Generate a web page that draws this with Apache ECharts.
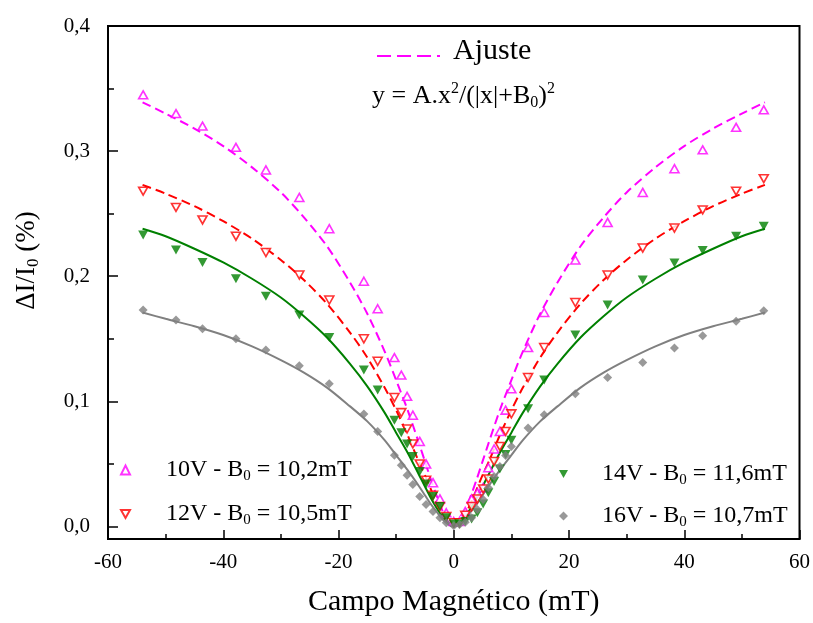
<!DOCTYPE html>
<html>
<head>
<meta charset="utf-8">
<script src="https://cdn.jsdelivr.net/npm/echarts@6/dist/echarts.min.js"></script>
<style>html,body{margin:0;padding:0;background:#fff;}#c{width:813px;height:623px;}</style>
</head>
<body>
<div id="c"></div>
<script>
// Magnetic field sample positions (mT)
const field = [-53.9,-48.2,-43.6,-37.8,-32.6,-26.8,-21.6,-15.6,-13.2,-10.3,-9.1,-8.1,-7.1,-5.9,-4.8,-3.6,-2.4,-1.3,0,
               1.0,2.0,3.1,4.1,5.1,6.0,7.0,8.0,9.0,10.0,12.9,15.7,21.1,26.7,32.8,38.3,43.2,49.0,53.8];
// Measured ΔI/I0 (%)
const v10 = [0.345,0.330,0.320,0.303,0.285,0.263,0.238,0.196,0.174,0.135,0.121,0.104,0.089,0.068,0.050,0.035,0.022,0.011,0.004,
             0.004,0.012,0.022,0.027,0.031,0.047,0.062,0.076,0.093,0.110,0.143,0.171,0.213,0.243,0.267,0.286,0.301,0.319,0.333];
const v12 = [0.268,0.255,0.245,0.232,0.219,0.201,0.181,0.150,0.132,0.103,0.091,0.078,0.066,0.050,0.037,0.025,0.016,0.008,0.003,
             0.003,0.009,0.016,0.022,0.030,0.038,0.052,0.064,0.076,0.090,0.119,0.143,0.179,0.201,0.2225,0.2385,0.253,0.268,0.278];
const v14 = [0.233,0.221,0.211,0.198,0.184,0.169,0.151,0.125,0.109,0.085,0.075,0.066,0.056,0.044,0.034,0.024,0.016,0.007,0.002,
             0.002,0.004,0.006,0.011,0.018,0.027,0.036,0.046,0.0575,0.069,0.094,0.117,0.153,0.177,0.197,0.2105,0.2206,0.232,0.240];
const v16 = [0.173,0.165,0.158,0.150,0.141,0.1285,0.114,0.090,0.076,0.057,0.049,0.041,0.0335,0.024,0.0176,0.012,0.007,0.003,0.0005,
             0.0016,0.0034,0.007,0.0136,0.0216,0.031,0.040,0.048,0.0567,0.064,0.0788,0.0894,0.106,0.119,0.131,0.1427,0.1525,0.164,0.1725];
// Fit curves
const fitX = [-54,-50,-45,-40,-35,-30,-26,-22,-18,-15,-12,-10,-8,-6,-5,-4,-3,-2,-1,0,1,2,3,4,5,6,8,10,12,15,18,22,26,30,35,40,45,50,54];
const fit10 = [0.339,0.330,0.318,0.304,0.287,0.267,0.247,0.224,0.195,0.170,0.140,0.117,0.093,0.066,0.052,0.038,0.025,0.013,0.004,0,
               0.004,0.013,0.025,0.038,0.052,0.066,0.093,0.117,0.140,0.170,0.195,0.224,0.247,0.267,0.287,0.304,0.318,0.330,0.339];
const fit12 = [0.273,0.266,0.256,0.244,0.230,0.213,0.197,0.178,0.155,0.135,0.111,0.093,0.073,0.051,0.041,0.030,0.019,0.010,0.003,0,
               0.003,0.010,0.019,0.030,0.041,0.051,0.073,0.093,0.111,0.135,0.155,0.178,0.197,0.213,0.230,0.244,0.256,0.266,0.273];
const fit14 = [0.238,0.232,0.222,0.211,0.198,0.183,0.168,0.151,0.130,0.112,0.091,0.075,0.059,0.041,0.032,0.023,0.015,0.008,0.002,0,
               0.002,0.008,0.015,0.023,0.032,0.041,0.059,0.075,0.091,0.112,0.130,0.151,0.168,0.183,0.198,0.211,0.222,0.232,0.238];
const fit16 = [0.171,0.166,0.160,0.153,0.144,0.133,0.123,0.111,0.096,0.084,0.069,0.057,0.045,0.032,0.025,0.018,0.012,0.006,0.002,0,
               0.002,0.006,0.012,0.018,0.025,0.032,0.045,0.057,0.069,0.084,0.096,0.111,0.123,0.133,0.144,0.153,0.160,0.166,0.171];
const yMajor = [0,0.1,0.2,0.3,0.4];
const yMinor = [0.05,0.15,0.25,0.35];
const names = ['10V - B0 = 10,2mT','12V - B0 = 10,5mT','14V - B0 = 11,6mT','16V - B0 = 10,7mT'];

const F = 'Liberation Serif';
const DOWN = 'path://M0,0L10,0L5,9Z';
const pair = (xs, ys) => xs.map((x, i) => [x, ys[i]]);
const subFmt = n => n.replace('B0', 'B{s|0}');
const legRich = {s: {fontSize: 15, fontFamily: F, color: '#000', verticalAlign: 'bottom', lineHeight: 15}};

function leg(name, left, top, padL, icon) {
  const o = {data: [name], left: left, top: top, padding: 0, orient: 'vertical', itemWidth: 9, itemHeight: 9,
    selectedMode: false, formatter: subFmt,
    textStyle: {fontFamily: F, fontSize: 24, color: '#000', lineHeight: 28, padding: [0, 0, 0, padL], rich: legRich}};
  if (icon) o.icon = icon;
  return o;
}

const chart = echarts.init(document.getElementById('c'));
chart.setOption({
  animation: false,
  backgroundColor: '#fff',
  grid: {left: 108, right: 13, top: 26, bottom: 84, show: true, borderColor: '#000', borderWidth: 2, backgroundColor: 'transparent'},
  xAxis: {type: 'value', min: -60, max: 60, interval: 20,
    name: 'Campo Magnético (mT)', nameLocation: 'middle', nameGap: 48,
    nameTextStyle: {fontFamily: F, fontSize: 30, color: '#000'},
    axisLine: {onZero: false, lineStyle: {color: '#000', width: 2}},
    axisTick: {inside: true, length: 9, lineStyle: {color: '#000', width: 1.5}},
    minorTick: {show: true, splitNumber: 2, length: 5, lineStyle: {color: '#000', width: 1.5}},
    axisLabel: {fontFamily: F, fontSize: 21, color: '#000', margin: 13},
    splitLine: {show: false}},
  yAxis: [{type: 'value', min: -0.01, max: 0.4,
    name: 'ΔI/I{s|0} (%)', nameLocation: 'middle', nameGap: 66, nameRotate: 90,
    nameTextStyle: {fontFamily: F, fontSize: 27, color: '#000', lineHeight: 30, padding: [0, 0, 0, 44],
      rich: {s: {fontSize: 17, fontFamily: F, color: '#000', verticalAlign: 'bottom', lineHeight: 17}}},
    axisLine: {show: true, onZero: false, lineStyle: {color: '#000', width: 2}},
    axisTick: {inside: true, length: 10, customValues: yMajor, lineStyle: {color: '#000', width: 1.5}},
    axisLabel: {customValues: yMajor, fontFamily: F, fontSize: 21, color: '#000', margin: 18,
      formatter: v => v.toFixed(1).replace('.', ',')},
    splitLine: {show: false}},
   {type: 'value', min: -0.01, max: 0.4, position: 'left',
    axisLine: {show: false, onZero: false},
    axisTick: {show: true, inside: true, length: 6, customValues: yMinor, lineStyle: {color: '#000', width: 1.5}},
    axisLabel: {show: false}, splitLine: {show: false}}],
  legend: [
    leg(names[0], 120, 456, 31, null),
    leg(names[1], 120, 500, 31, DOWN),
    leg(names[2], 559, 460, 29, DOWN),
    leg(names[3], 559, 502, 29, null)
  ],
  graphic: [
    {type: 'line', silent: true, shape: {x1: 377, y1: 56, x2: 440, y2: 56},
     style: {stroke: '#ff00ff', lineWidth: 2, lineDash: [14, 6]}},
    {type: 'text', left: 453, top: 36, silent: true,
     style: {text: 'Ajuste', fontFamily: F, fontSize: 30, fill: '#000'}},
    {type: 'text', left: 372, top: 81, silent: true,
     style: {text: 'y = A.x{p|2}/(|x|+B{s|0}){p|2}', fontFamily: F, fontSize: 26, fill: '#000', lineHeight: 30,
      rich: {p: {fontSize: 16, fontFamily: F, verticalAlign: 'top', lineHeight: 16},
             s: {fontSize: 16, fontFamily: F, verticalAlign: 'bottom', lineHeight: 16}}}}],
  series: [
    {name: 'Ajuste', type: 'line', data: pair(fitX, fit10), smooth: 0.3, symbol: 'none', z: 2,
     lineStyle: {color: '#ff00ff', width: 2, type: [9, 5]}, itemStyle: {color: '#ff00ff'}},
    {name: 'fit12', type: 'line', data: pair(fitX, fit12), smooth: 0.3, symbol: 'none', z: 2,
     lineStyle: {color: '#ff0000', width: 2, type: [9, 5]}},
    {name: 'fit14', type: 'line', data: pair(fitX, fit14), smooth: 0.3, symbol: 'none', z: 2,
     lineStyle: {color: '#008000', width: 2}},
    {name: 'fit16', type: 'line', data: pair(fitX, fit16), smooth: 0.3, symbol: 'none', z: 2,
     lineStyle: {color: '#808080', width: 2}},
    {name: names[0], type: 'scatter', data: pair(field, v10), symbol: 'triangle', symbolSize: [9, 8], z: 3,
     itemStyle: {color: '#ffffff', borderColor: '#ff00ff', borderWidth: 1.6}},
    {name: names[1], type: 'scatter', data: pair(field, v12), symbol: 'triangle', symbolRotate: 180, symbolSize: [9, 8], z: 3,
     itemStyle: {color: '#ffffff', borderColor: '#ff0000', borderWidth: 1.6}},
    {name: names[2], type: 'scatter', data: pair(field, v14), symbol: 'triangle', symbolRotate: 180, symbolSize: [10, 9], z: 3,
     itemStyle: {color: '#008000'}},
    {name: names[3], type: 'scatter', data: pair(field, v16), symbol: 'diamond', symbolSize: [9, 9], z: 3,
     itemStyle: {color: '#808080'}}
  ]
});
</script>
</body>
</html>
